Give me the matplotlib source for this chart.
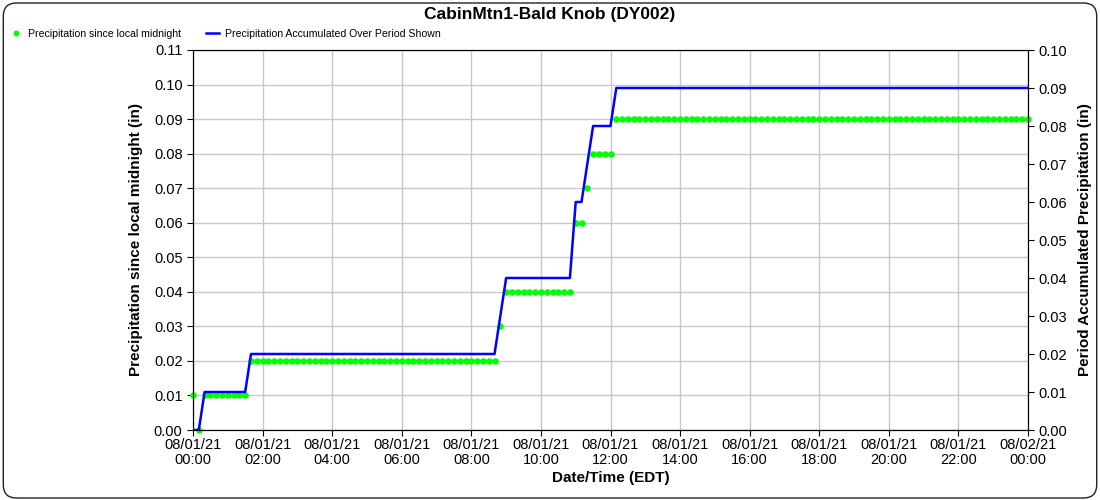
import numpy as np
import pandas as pd
import matplotlib
matplotlib.use("Agg")
import matplotlib.pyplot as plt
import matplotlib.dates as mdates
from matplotlib.patches import FancyBboxPatch

# Data (10-minute readings, 08/01/21 00:00 -> 08/02/21 00:00)
inicio = "2021-08-01 00:00"
intervalo = "10min"

# run-length values: (value, number of readings)
since_midnight_vals = [0.01, 0.00, 0.01, 0.02, 0.03, 0.04, 0.06, 0.07, 0.08, 0.09]
since_midnight_counts = [1, 1, 8, 43, 1, 12, 2, 1, 4, 72]

accum_vals = [0.00, 0.01, 0.02, 0.03, 0.04, 0.06, 0.07, 0.08, 0.09]
accum_counts = [2, 8, 43, 1, 12, 2, 1, 4, 72]

titulo = "CabinMtn1-Bald Knob (DY002)"
label_pts = "Precipitation since local midnight"
label_linha = "Precipitation Accumulated Over Period Shown"

since_midnight = np.repeat(since_midnight_vals, since_midnight_counts)
accum = np.repeat(accum_vals, accum_counts)
tempos = pd.date_range(inicio, periods=len(since_midnight), freq=intervalo)

plt.rcParams["font.family"] = ["Liberation Sans", "DejaVu Sans"]

fig = plt.figure(figsize=(11, 5), dpi=100)
ax = fig.add_axes([193 / 1100, 70 / 500, 835 / 1100, 380 / 500])
ax2 = ax.twinx()

# Rounded border
borda = FancyBboxPatch((0.003, 0.004), 0.994, 0.99, boxstyle="round,pad=0,rounding_size=0.012",
                       transform=fig.transFigure, fill=False, edgecolor="#222222", linewidth=1.0,
                       mutation_aspect=2.2)
fig.patches.append(borda)

ax.plot(tempos, since_midnight, linestyle="none", marker="o", markersize=3.7,
        color="#00ff00", label=label_pts, zorder=3, clip_on=False)
ax2.plot(tempos, accum, color="#0000ff", linewidth=1.8, label=label_linha, zorder=3)

t0 = pd.Timestamp("2021-08-01 00:00")
t1 = pd.Timestamp("2021-08-02 00:00")
ax.set_xlim(t0, t1)
ax.set_ylim(0, 0.11)
ax2.set_ylim(0, 0.10)
ax.set_yticks(np.arange(0, 0.111, 0.01))
ax2.set_yticks(np.arange(0, 0.101, 0.01))
ax.yaxis.set_major_formatter(plt.FormatStrFormatter("%.2f"))
ax2.yaxis.set_major_formatter(plt.FormatStrFormatter("%.2f"))

ax.xaxis.set_major_locator(mdates.HourLocator(interval=2))
ax.xaxis.set_major_formatter(mdates.DateFormatter("%m/%d/%y\n%H:%M"))

ax.tick_params(axis="both", labelsize=10.5, length=4, direction="out", color="black")
ax.tick_params(axis="x", pad=2)
ax2.tick_params(axis="y", labelsize=10.5, length=4, direction="out", color="black")
for lab in ax.get_xticklabels():
    lab.set_linespacing(1.05)

ax.grid(True, color="#c8c8c8", linewidth=1.0)
ax.set_axisbelow(True)

ax.set_xlabel("Date/Time (EDT)", fontsize=11, fontweight="bold", labelpad=3)
ax.set_ylabel("Precipitation since local midnight (in)", fontsize=11, fontweight="bold", labelpad=8)
ax2.set_ylabel("Period Accumulated Precipitation (in)", fontsize=11, fontweight="bold", labelpad=8)

for s in ax.spines.values():
    s.set_color("black")
for s in ax2.spines.values():
    s.set_color("black")

fig.text(0.5, 0.971, titulo, ha="center", va="center", fontsize=12.5, fontweight="bold")

h1, l1 = ax.get_legend_handles_labels()
h2, l2 = ax2.get_legend_handles_labels()
fig.legend(h1 + h2, l1 + l2, loc="center left", bbox_to_anchor=(0.0, 0.932), ncol=2,
           frameon=False, fontsize=7.6, handlelength=1.2, handletextpad=0.55, columnspacing=2.4,
           markerscale=0.9)

fig.savefig("out.png", dpi=100)
plt.close()
